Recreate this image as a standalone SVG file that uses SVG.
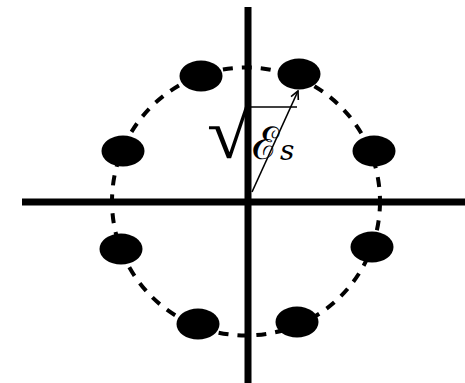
<svg xmlns="http://www.w3.org/2000/svg" width="465" height="383" viewBox="0 0 465 383">
<style>
.axis{stroke:#000;stroke-width:7;fill:none}
.ring{stroke:#000;stroke-width:4;fill:none;stroke-dasharray:10 9}
.pt{fill:#000}
.thin{stroke:#000;stroke-width:1.6;fill:none}
.math{font-family:"DejaVu Serif","Liberation Serif",serif;fill:#000}
.rad{font-family:"Liberation Serif","DejaVu Serif",serif;fill:#000}
</style>
<defs>
<marker id="ah" markerWidth="10" markerHeight="10" refX="9" refY="5" orient="auto" markerUnits="userSpaceOnUse">
<path d="M1,1 L9,5 L1,9" fill="none" stroke="#000" stroke-width="1.6"/>
</marker>
</defs>
<rect width="465" height="383" fill="#fff"/>
<g id="ring"><circle class="ring" cx="246" cy="201.5" r="134"/></g>
<g id="axes">
<line class="axis" x1="22" y1="202" x2="465" y2="202"/>
<line class="axis" x1="248" y1="7" x2="248" y2="383"/>
</g>
<g id="p1"><ellipse class="pt" cx="299" cy="74" rx="21.5" ry="15.5"/></g>
<g id="p2"><ellipse class="pt" cx="201" cy="76" rx="21.5" ry="15.5"/></g>
<g id="p3"><ellipse class="pt" cx="123" cy="151" rx="21.5" ry="15.5"/></g>
<g id="p4"><ellipse class="pt" cx="374" cy="151" rx="21.5" ry="15.5"/></g>
<g id="p5"><ellipse class="pt" cx="121" cy="249" rx="21.5" ry="15.5"/></g>
<g id="p6"><ellipse class="pt" cx="372" cy="247" rx="21.5" ry="15.5"/></g>
<g id="p7"><ellipse class="pt" cx="198" cy="324" rx="21.5" ry="15.5"/></g>
<g id="p8"><ellipse class="pt" cx="297" cy="322" rx="21.5" ry="15.5"/></g>
<g id="connectors">
<line class="thin" x1="252" y1="192" x2="298" y2="91" marker-end="url(#ah)"/>
<line class="thin" x1="251" y1="107" x2="297" y2="107"/>
</g>
<g id="label">
<text class="rad" x="0" y="0" font-size="72" transform="translate(207,158) scale(1.1,1)">√</text>
<text class="math" x="252" y="159" font-size="45">ℰ</text>
<text class="math" x="280" y="160" font-size="28" font-style="italic">s</text>
</g>
</svg>
